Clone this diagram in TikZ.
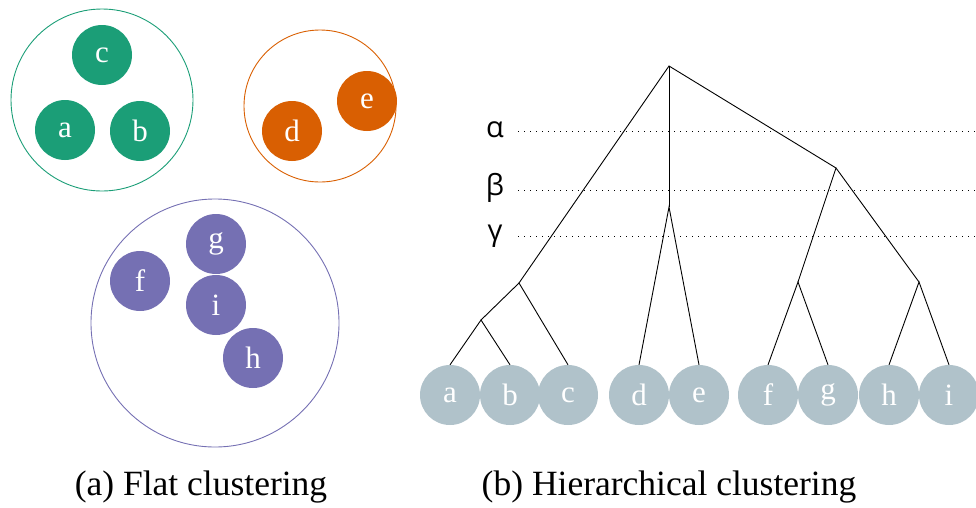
\documentclass[tikz,border=0pt]{standalone}
\usepackage{fontspec}
\setmainfont{Liberation Serif}
\newfontfamily\greekfont{Open Sans}
\definecolor{cgreen}{HTML}{1B9E77}
\definecolor{corange}{HTML}{D95F02}
\definecolor{cpurple}{HTML}{7570B3}
\definecolor{cleaf}{RGB}{176,194,202}
\begin{document}
\begin{tikzpicture}[x=1pt,y=-1pt,
  pt/.style={circle,inner sep=0pt,minimum size=60pt,text=white,font=\fontsize{31}{31}\selectfont},
  gpt/.style={pt,fill=cgreen},
  opt/.style={pt,fill=corange},
  ppt/.style={pt,fill=cpurple},
  leaf/.style={pt,fill=cleaf},
  hull/.style={circle,inner sep=0pt,line width=0.9pt},
  tree/.style={line width=0.9pt,black},
  level/.style={dotted,line width=0.9pt,dash pattern=on 0.9pt off 5.1pt},
  glabel/.style={font=\greekfont\fontsize{29}{29}\selectfont},
  caption/.style={anchor=base,font=\fontsize{35.5}{35.5}\selectfont}]
\useasboundingbox (0,0) rectangle (976,507);
% flat clustering
\node[hull,draw=cgreen,minimum size=182pt] (G) at (102,100) {};
\node[gpt] (fc) at (102,55) {c};
\node[gpt] (fa) at (65,130) {a};
\node[gpt] (fb) at (140,131) {b};
\node[hull,draw=corange,minimum size=152pt] (O) at (320,106) {};
\node[opt] (fd) at (292,131) {d};
\node[opt] (fe) at (367,101) {e};
\node[hull,draw=cpurple,minimum size=248pt] (P) at (215,323) {};
\node[ppt] (fg) at (216,244) {g};
\node[ppt] (ff) at (140,281) {f};
\node[ppt] (fi) at (216,305) {i};
\node[ppt] (fh) at (253,358) {h};
% hierarchical clustering
\draw[level] (518,131) coordinate (la) -- (976,131) coordinate (ra);
\draw[level] (518,190) coordinate (lb) -- (976,190) coordinate (rb);
\draw[level] (518,236) coordinate (lc) -- (976,236) coordinate (rc);
\node[glabel] (alpha) at (495,130) {α};
\node[glabel] (beta) at (495,188) {β};
\node[glabel] (gamma) at (495,236) {γ};
\node[leaf] (a) at (450,395) {a};
\node[leaf] (b) at (510,395) {b};
\node[leaf] (c) at (568,395) {c};
\node[leaf] (d) at (639,395) {d};
\node[leaf] (e) at (699,395) {e};
\node[leaf] (f) at (768,395) {f};
\node[leaf] (g) at (828,395) {g};
\node[leaf] (h) at (889,395) {h};
\node[leaf] (i) at (949,395) {i};
\coordinate (ab) at (481,320);
\coordinate (abc) at (519,283);
\coordinate (de) at (669,207);
\coordinate (fgn) at (798,282);
\coordinate (hin) at (919,282);
\coordinate (fghi) at (836,168);
\coordinate (root) at (669,66);
\draw[tree] (a.north) -- (ab) -- (b.north);
\draw[tree] (ab) -- (abc) -- (c.north);
\draw[tree] (d.north) -- (de) -- (e.north);
\draw[tree] (f.north) -- (fgn) -- (g.north);
\draw[tree] (h.north) -- (hin) -- (i.north);
\draw[tree] (fgn) -- (fghi) -- (hin);
\draw[tree] (abc) -- (root) -- (fghi);
\draw[tree] (root) -- (de);
% captions
\node[caption] (capa) at (201,495) {(a) Flat clustering};
\node[caption] (capb) at (669,495) {(b) Hierarchical clustering};
\end{tikzpicture}
\end{document}
